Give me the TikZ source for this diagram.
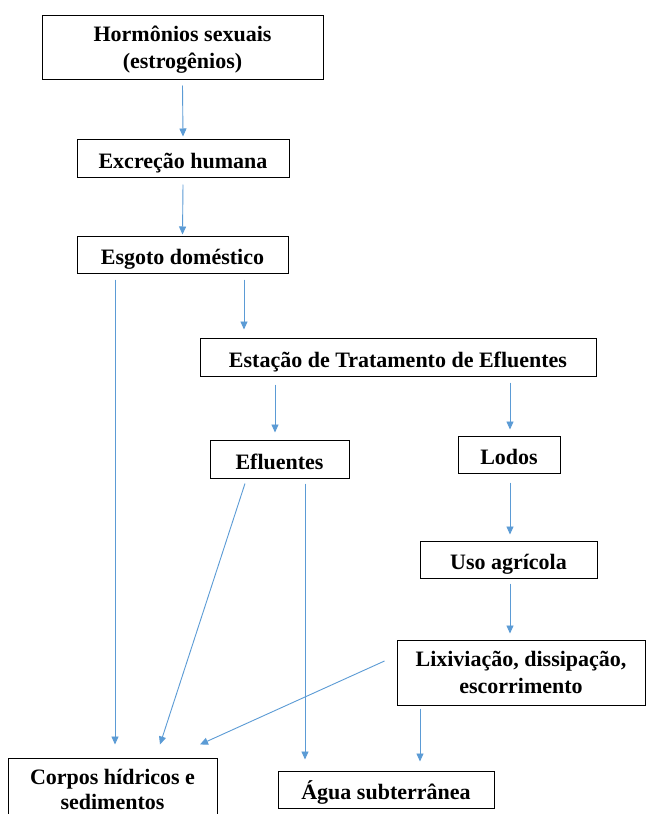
\documentclass[tikz,border=0pt]{standalone}
\usepackage{fontspec}
\setmainfont{Liberation Serif}
\usetikzlibrary{arrows.meta}
\definecolor{flowblue}{HTML}{5B9BD5}
\begin{document}
\begin{tikzpicture}[x=1pt,y=-1pt,
  box/.style={draw=black,line width=1pt,inner sep=0pt,align=center,
    font=\fontsize{22}{27}\selectfont\bfseries},
  oneline/.style={box,text height=20.5pt,text depth=0pt},
  arr/.style={draw=flowblue,line width=0.9pt,
    -{Triangle[width=7pt,length=8pt]}}]
\clip (0,0) rectangle (646,814);
\fill[white] (0,0) rectangle (646,814);

% boxes of the flow chart
\node[box,minimum width=281pt,minimum height=64pt,text depth=0pt] (horm) at (182.5,47) {Hormônios sexuais\\(estrogênios)};
\node[oneline,minimum width=212pt,minimum height=38pt] (excr) at (183,158) {Excreção humana};
\node[oneline,minimum width=211pt,minimum height=37pt] (esg) at (182.5,254.5) {Esgoto doméstico};
\node[oneline,minimum width=396pt,minimum height=38pt] (ete) at (398,357) {Estação de Tratamento de Efluentes};
\node[oneline,minimum width=139pt,minimum height=38pt] (eflu) at (279.5,459) {Efluentes};
\node[oneline,minimum width=102pt,minimum height=37pt] (lodos) at (509,454.5) {Lodos};
\node[oneline,minimum width=177pt,minimum height=37pt] (uso) at (508.5,559.5) {Uso agrícola};
\node[box,minimum width=248pt,minimum height=65pt] (lix) at (521,672.5) {Lixiviação, dissipação,\\escorrimento};
\node[box,minimum width=209pt,minimum height=72pt,text depth=10pt,font=\fontsize{22}{25}\selectfont\bfseries] (corpos) at (112.5,794) {Corpos hídricos e\\sedimentos};
\node[oneline,minimum width=216pt,minimum height=37pt] (agua) at (386,789.5) {Água subterrânea};

% connectors (they stop short of the boxes)
\draw[arr] ([yshift=-6pt]horm.south) -- ([yshift=2pt]excr.north);
\draw[arr] ([yshift=-7pt]excr.south) -- ([yshift=1pt]esg.north);
\draw[arr] ([xshift=61.5pt,yshift=-6pt]esg.south) -- ([xshift=-154pt,yshift=8pt]ete.north);
\draw[arr] ([xshift=-67.5pt,yshift=-6pt]esg.south) -- ([xshift=2.5pt,yshift=13pt]corpos.north);
\draw[arr] ([xshift=-123pt,yshift=-8pt]ete.south) -- ([xshift=-4.5pt,yshift=7pt]eflu.north);
\draw[arr] ([xshift=112pt,yshift=-6pt]ete.south) -- ([xshift=1pt,yshift=6pt]lodos.north);
\draw[arr] ([xshift=1pt,yshift=-9pt]lodos.south) -- ([xshift=1.5pt,yshift=6pt]uso.north);
\draw[arr] ([xshift=1.5pt,yshift=-5pt]uso.south) -- ([xshift=-11pt,yshift=6pt]lix.north);
\draw[arr] ([xshift=-34.5pt,yshift=-5pt]eflu.south) -- ([xshift=47.5pt,yshift=13pt]corpos.north);
\draw[arr] ([xshift=25.5pt,yshift=-5pt]eflu.south) -- ([xshift=-81pt,yshift=11pt]agua.north);
\draw[arr] ([xshift=-12pt,yshift=11.5pt]lix.west) -- ([xshift=87.5pt,yshift=13pt]corpos.north);
\draw[arr] ([xshift=-101pt,yshift=-3pt]lix.south) -- ([xshift=34pt,yshift=9pt]agua.north);
\end{tikzpicture}
\end{document}
